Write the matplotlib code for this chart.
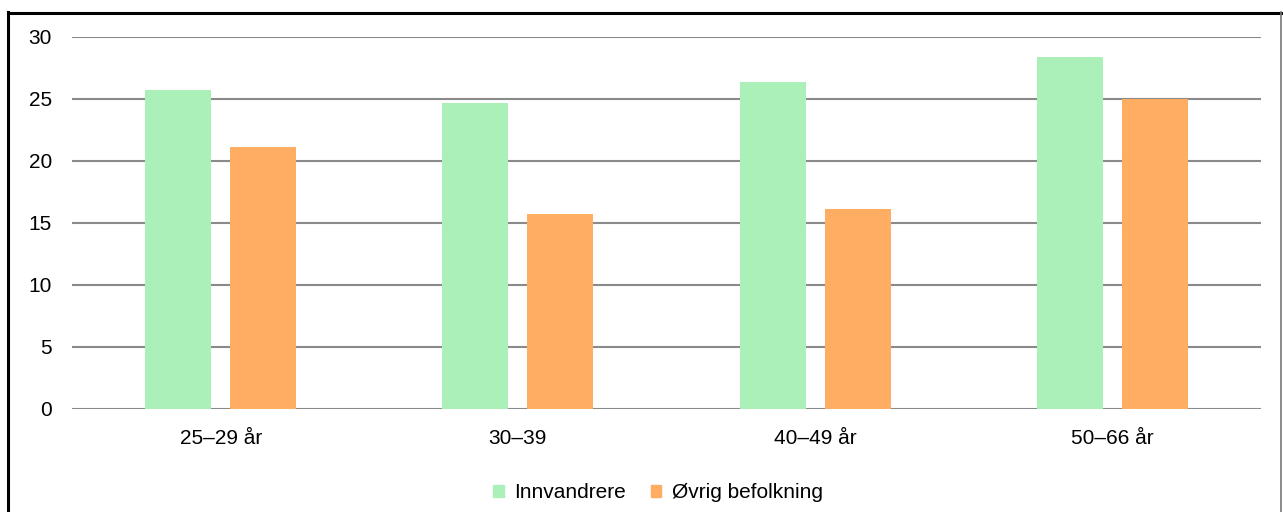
import matplotlib
matplotlib.use("Agg")
import matplotlib.pyplot as plt
from matplotlib.lines import Line2D
from matplotlib.patches import Patch
import numpy as np

plt.rcParams['font.family'] = ['Liberation Sans', 'DejaVu Sans']

categories = ["25–29 år", "30–39", "40–49 år", "50–66 år"]
series_names = ["Innvandrere", "Øvrig befolkning"]
innvandrere = [25.7, 24.7, 26.4, 28.4]
ovrig = [21.1, 15.7, 16.1, 25.0]
yticks = [0, 5, 10, 15, 20, 25, 30]

green = "#abf0b9"
orange = "#ffad62"
grid_col = "#8a8a8a"

fig = plt.figure(figsize=(12.83, 5.12), dpi=100)
ax = fig.add_axes([72 / 1283, 1 - 409 / 512, (1261 - 72) / 1283, (409 - 37) / 512])

x = np.arange(len(categories))
w = 0.222
off = 0.143
ax.bar(x - off, innvandrere, width=w, color=green, zorder=3, label=series_names[0])
ax.bar(x + off, ovrig, width=w, color=orange, zorder=3, label=series_names[1])

ax.set_xlim(-0.5, len(categories) - 0.5)
ax.set_ylim(0, 30)
ax.set_yticks(yticks)
ax.set_xticks(x)
ax.set_xticklabels(categories)
ax.yaxis.grid(True, color=grid_col, linewidth=1.5, zorder=1)
ax.set_axisbelow(True)
for s in ax.spines.values():
    s.set_visible(False)
ax.tick_params(axis='both', length=0, labelsize=15, colors="black")
ax.tick_params(axis='y', pad=14.4)
ax.tick_params(axis='x', pad=14.5)

handles = [Patch(color=green), Patch(color=orange)]
fig.legend(handles, series_names, loc='center', bbox_to_anchor=(658 / 1283, 1 - 493 / 512),
           ncol=2, frameon=False, fontsize=15, handlelength=0.5, handleheight=0.5,
           handletextpad=0.5, columnspacing=1.2)

# outer frame
fig.add_artist(Line2D([8 / 1283, 8 / 1283], [0, 1 - 12 / 512], color="black", linewidth=2.2,
                      transform=fig.transFigure))
fig.add_artist(Line2D([8 / 1283, 1281 / 1283], [1 - 13 / 512, 1 - 13 / 512], color="black",
                      linewidth=2.2, transform=fig.transFigure))
fig.add_artist(Line2D([1281 / 1283, 1281 / 1283], [0, 1 - 12 / 512], color="#777777",
                      linewidth=1.2, transform=fig.transFigure))

fig.savefig("out.png", dpi=100)
